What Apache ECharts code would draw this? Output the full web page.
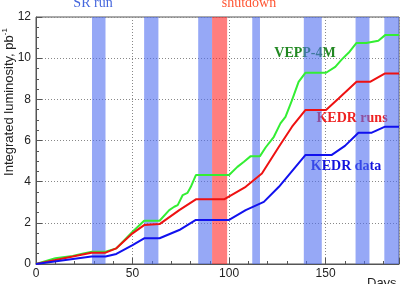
<!DOCTYPE html>
<html>
<head>
<meta charset="utf-8">
<script src="https://cdn.jsdelivr.net/npm/echarts@6/dist/echarts.min.js"></script>
<style>
  html, body { margin: 0; padding: 0; background: #fff; }
  #chart { width: 402px; height: 284px; }
</style>
</head>
<body>
<div id="chart"></div>
<script>
// integrated luminosity, pb^-1, vs day
const vepp4m = [
  [0, 0], [10, 0.28], [19, 0.39], [24, 0.5], [29, 0.6], [36, 0.6], [41.6, 0.76],
  [50, 1.57], [56, 2.1], [64, 2.1], [69, 2.62], [71.6, 2.78], [73.4, 2.86],
  [76, 3.35], [78.5, 3.46], [80.2, 3.75], [82.8, 4.32], [100, 4.32], [104.3, 4.72],
  [107.7, 4.97], [111.2, 5.24], [116, 5.24], [118.9, 5.66], [123.2, 6.18],
  [126.6, 6.83], [129.2, 7.15], [132.6, 7.96], [136, 8.85], [139.5, 9.29],
  [150.2, 9.29], [155, 9.58], [158.4, 9.94], [161.9, 10.26], [166, 10.74],
  [171, 10.74], [177.3, 10.85], [180.8, 11.12], [188, 11.12]
]
const kedrRuns = [
  [0, 0], [19, 0.36], [28.7, 0.55], [36, 0.55], [41.6, 0.76], [50, 1.49],
  [56, 1.89], [64, 1.94], [74.2, 2.62], [82.8, 3.14], [97.4, 3.14], [108.6, 3.75],
  [117, 4.4], [125.8, 5.7], [132.6, 6.67], [139.5, 7.48], [150.2, 7.48],
  [156.7, 8.04], [166, 8.85], [173, 8.85], [180.8, 9.26], [188, 9.26]
]
const kedrData = [
  [0, 0], [28.7, 0.36], [36, 0.36], [41.6, 0.49], [50, 0.92], [56, 1.25],
  [64, 1.25], [74.2, 1.65], [82.8, 2.14], [100, 2.14], [108.6, 2.62], [118, 3.02],
  [125.8, 3.75], [139.5, 5.29], [153, 5.29], [160, 5.74], [167, 6.38],
  [173.9, 6.38], [180.8, 6.67], [188, 6.67]
]
// shaded periods, days
const srRuns = [[29, 36], [56, 63.4], [84, 91.2], [112, 116], [138.7, 148], [165.5, 172.7], [180.4, 188]]
const shutdown = [[91.2, 99]]

const chart = echarts.init(document.getElementById('chart'))

const sans = 'Liberation Sans'
const serif = 'Liberation Serif'

const bandAreas = srRuns.map(([a, b]) => [
  { xAxis: a, itemStyle: { color: 'rgba(80,110,240,0.6)' } }, { xAxis: b }
]).concat(shutdown.map(([a, b]) => [
  { xAxis: a, itemStyle: { color: 'rgba(255,40,40,0.6)' } }, { xAxis: b }
]))

const lineSeries = (name, data, color) => ({
  name, type: 'line', data, symbol: 'none', z: 2,
  lineStyle: { color, width: 2 },
})

chart.setOption({
  animation: false,
  grid: {
    left: 36, right: 2, top: 17, bottom: 20,
    show: true, borderColor: '#555', borderWidth: 1,
  },
  xAxis: {
    type: 'value', min: 0, max: 188, interval: 50,
    axisLine: { lineStyle: { color: '#555' } },
    axisTick: { inside: true, length: 6, lineStyle: { color: '#555' } },
    minorTick: { show: true, splitNumber: 5, length: 3, lineStyle: { color: '#555' } },
    axisLabel: {
      color: '#222', fontFamily: sans, fontSize: 12, margin: 4,
      formatter: v => (v % 50 === 0 ? String(v) : ''),
    },
    splitLine: { show: true, lineStyle: { color: '#888', type: [1, 2] } },
  },
  yAxis: {
    type: 'value', min: 0, max: 12, interval: 2,
    axisLine: { show: true, lineStyle: { color: '#555' } },
    axisTick: { show: true, inside: true, length: 6, lineStyle: { color: '#555' } },
    minorTick: { show: true, splitNumber: 4, length: 3, lineStyle: { color: '#555' } },
    axisLabel: { color: '#222', fontFamily: sans, fontSize: 12, margin: 5 },
    splitLine: { show: true, lineStyle: { color: '#888', type: [1, 2] } },
  },
  series: [
    lineSeries('VEPP-4M', vepp4m, '#33ee33'),
    lineSeries('KEDR runs', kedrRuns, '#ee1111'),
    lineSeries('KEDR data', kedrData, '#1111ee'),
    {
      name: 'bands', type: 'line', data: [], z: 5,
      markArea: { silent: true, data: bandAreas },
    },
  ],
  graphic: [
    {
      type: 'text', x: 9, y: 102, rotation: Math.PI / 2,
      style: {
        text: 'Integrated luminosity, pb{s|-1}',
        align: 'center', verticalAlign: 'middle',
        fontFamily: sans, fontSize: 13, fill: '#222',
        rich: { s: { fontSize: 8, verticalAlign: 'top', padding: [0, 0, 8, 0], fontFamily: sans, fill: '#222' } },
      },
    },
    { type: 'text', x: 93, y: 3, style: { text: 'SR run', align: 'center', verticalAlign: 'middle', fontFamily: serif, fontSize: 14, fill: '#4466dd' } },
    { type: 'text', x: 249, y: 3, style: { text: 'shutdown', align: 'center', verticalAlign: 'middle', fontFamily: serif, fontSize: 14, fill: '#ff5533' } },
    { type: 'text', x: 305, y: 53, style: { text: 'VEPP-4M', align: 'center', verticalAlign: 'middle', fontFamily: serif, fontWeight: 'bold', fontSize: 14, fill: '#228822' } },
    { type: 'text', x: 352, y: 118, style: { text: 'KEDR runs', align: 'center', verticalAlign: 'middle', fontFamily: serif, fontWeight: 'bold', fontSize: 14, fill: '#ee2222' } },
    { type: 'text', x: 346, y: 166, style: { text: 'KEDR data', align: 'center', verticalAlign: 'middle', fontFamily: serif, fontWeight: 'bold', fontSize: 14, fill: '#1111dd' } },
    { type: 'text', x: 367, y: 277, style: { text: 'Days', align: 'left', verticalAlign: 'top', fontFamily: sans, fontSize: 13, fill: '#222' } },
  ],
})
</script>
</body>
</html>
